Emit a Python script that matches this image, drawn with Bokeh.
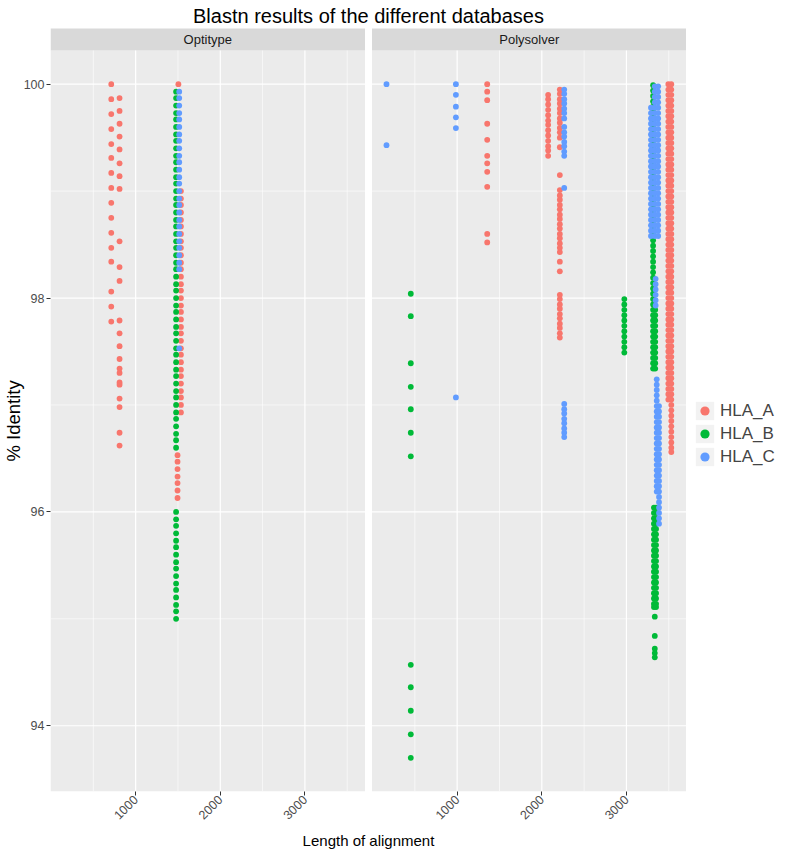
import math
from bokeh.plotting import figure
from bokeh.layouts import row
from bokeh.models import Range1d, FixedTicker, Legend, LegendItem, Title
from bokeh.core.properties import value
from bokeh.embed import file_html
from bokeh.resources import INLINE

FONT = "Liberation Sans"
alleles = ["HLA_A", "HLA_B", "HLA_C"]
allele_colors = ["#F8766D", "#00BA38", "#619CFF"]
panels = ["Optitype", "Polysolver"]

x_major = [1000, 2000, 3000]
x_minor = [500, 1500, 2500, 3500]
y_major = [94, 96, 98, 100]
y_minor = [95, 97, 99]

# ---------------- data: (alignment length, [% identity ...]) ----------------
opt_a_cols = [
    (712, [100.0, 99.86, 99.72, 99.58, 99.44, 99.31, 99.17, 99.03, 98.89, 98.75,
           98.61, 98.47, 98.34, 98.06, 97.92, 97.78]),
    (810, [99.87, 99.75, 99.63, 99.51, 99.39, 99.26, 99.14, 99.02, 98.53, 98.29,
           98.16, 97.79, 97.67, 97.55, 97.43, 97.34, 97.30, 97.21, 97.19, 97.06,
           96.98, 96.74, 96.62]),
    (1505, [100.0]),
    (1535, [99.00, 98.93, 98.87, 98.80, 98.73, 98.67, 98.60, 98.53, 98.47, 98.40,
            98.33, 98.27, 98.20, 98.13, 98.07, 98.00, 97.93, 97.87, 97.80, 97.73,
            97.67, 97.60, 97.53, 97.47, 97.40, 97.33, 97.27, 97.20, 97.13, 97.07,
            97.00, 96.93]),
    (1495, [96.53, 96.47, 96.40, 96.33, 96.27, 96.20, 96.13]),
]
opt_b_cols = [
    (1478, [99.93, 99.87, 99.80, 99.73, 99.67, 99.60, 99.53, 99.47, 99.40, 99.33,
            99.27, 99.20, 99.13, 99.07, 99.00, 98.93, 98.87, 98.80, 98.73, 98.67,
            98.60, 98.53, 98.47, 98.40, 98.33, 98.27, 98.20, 98.13, 98.07, 98.00,
            97.93, 97.87, 97.80, 97.73, 97.67, 97.60, 97.53, 97.47, 97.40, 97.33,
            97.27, 97.20, 97.13, 97.07, 97.00, 96.93, 96.87, 96.80, 96.73, 96.67,
            96.60,
            96.00, 95.93, 95.87, 95.80, 95.73, 95.67, 95.60, 95.53, 95.47, 95.40,
            95.33, 95.27, 95.20, 95.13, 95.07, 95.00]),
]
opt_c_cols = [
    (1515, [99.93, 99.87, 99.80, 99.73, 99.67, 99.60, 99.53, 99.47, 99.40, 99.33,
            99.27, 99.20, 99.13, 99.07, 99.00, 98.93, 98.87, 98.80, 98.73, 98.67,
            98.60, 98.53, 98.47, 98.40, 98.33, 98.27, 97.53]),
]

poly_a_dense = [100.00, 99.95, 99.90, 99.85, 99.80, 99.75, 99.70, 99.65, 99.60, 99.55,
                99.50, 99.45, 99.40, 99.35, 99.30, 99.25, 99.20, 99.15, 99.10, 99.05,
                99.00, 98.95, 98.90, 98.85, 98.80, 98.75, 98.70, 98.65, 98.60, 98.55,
                98.50, 98.45, 98.40, 98.35, 98.30, 98.25, 98.20, 98.15, 98.10, 98.05,
                98.00, 97.95, 97.90, 97.85, 97.80, 97.75, 97.70, 97.65, 97.60, 97.55,
                97.50, 97.45, 97.40, 97.35, 97.30, 97.25, 97.20, 97.15, 97.10, 97.05,
                97.00, 96.95, 96.90, 96.85, 96.80, 96.75, 96.70, 96.65, 96.60, 96.56]
poly_a_cols = [
    (1355, [100.0, 99.93, 99.85, 99.63, 99.48, 99.33, 99.26, 99.18, 99.04, 98.60, 98.52]),
    (2075, [99.90, 99.86, 99.81, 99.76, 99.71, 99.66, 99.62, 99.57, 99.52, 99.47,
            99.42, 99.38, 99.33]),
    (2213, [99.95, 99.91, 99.86, 99.82, 99.77, 99.73, 99.68, 99.64, 99.59, 99.55,
            99.50, 99.41, 99.15,
            99.01, 98.96, 98.92, 98.87, 98.83, 98.78, 98.74, 98.69, 98.65, 98.60,
            98.56, 98.51, 98.47, 98.43, 98.34, 98.25,
            98.03, 97.99, 97.94, 97.90, 97.85, 97.81, 97.76, 97.72, 97.67, 97.63]),
    (3495, poly_a_dense[:60]),
    (3530, poly_a_dense),
]

poly_b_dense_top = [99.99, 99.94, 99.89, 99.84, 99.79, 99.74, 99.69, 99.64, 99.59, 99.54,
                    99.49, 99.44, 99.39, 99.34, 99.29, 99.24, 99.19, 99.14, 99.09, 99.04,
                    98.99, 98.94, 98.89, 98.84, 98.79, 98.74, 98.69, 98.64, 98.59, 98.54,
                    98.49, 98.44, 98.39, 98.34, 98.29, 98.24, 98.19, 98.14, 98.09, 98.04,
                    97.99, 97.94, 97.89, 97.84, 97.79, 97.74, 97.69, 97.64, 97.59, 97.54,
                    97.49, 97.44, 97.39, 97.34]
poly_b_dense_low = [96.04, 95.99, 95.94, 95.89, 95.84, 95.79, 95.74, 95.69, 95.64, 95.59,
                    95.54, 95.49, 95.44, 95.39, 95.34, 95.29, 95.24, 95.19, 95.14, 95.11]
poly_b_cols = [
    (452, [98.04, 97.83, 97.39, 97.17, 96.96, 96.74, 96.52, 94.57, 94.36, 94.14, 93.92, 93.70]),
    (2975, [97.99, 97.94, 97.89, 97.84, 97.79, 97.74, 97.69, 97.64, 97.59, 97.54, 97.49]),
    (3315, poly_b_dense_top),
    (3340, poly_b_dense_top[42:]),
    (3325, poly_b_dense_low),
    (3350, poly_b_dense_low),
    (3335, [95.02, 94.84, 94.72, 94.68, 94.64]),
]

poly_c_dense_top = [99.98, 99.93, 99.88, 99.83, 99.78, 99.73, 99.68, 99.63, 99.58, 99.53,
                    99.48, 99.43, 99.38, 99.33, 99.28, 99.23, 99.18, 99.13, 99.08, 99.03,
                    98.98, 98.93, 98.88, 98.83, 98.78, 98.73, 98.68, 98.63, 98.58]
poly_c_dense_low = [97.24, 97.19, 97.14, 97.09, 97.04, 96.99, 96.94, 96.89, 96.84, 96.79,
                    96.74, 96.69, 96.64, 96.59, 96.54, 96.49, 96.44, 96.39, 96.34, 96.29,
                    96.24, 96.19, 96.14, 96.09, 96.04, 95.99, 95.94, 95.89]
poly_c_cols = [
    (165, [100.0, 99.43]),
    (985, [100.0, 99.90, 99.79, 99.69, 99.59, 97.07]),
    (2265, [99.95, 99.91, 99.86, 99.82, 99.77, 99.73, 99.68, 99.60, 99.55, 99.51,
            99.46, 99.42, 99.37, 99.33, 99.03, 97.01, 96.96, 96.92, 96.87, 96.83,
            96.78, 96.74, 96.70]),
    (3290, poly_c_dense_top[4:]),
    (3335, poly_c_dense_top),
    (3375, poly_c_dense_top),
    (3345, [98.18, 98.13, 98.08, 98.03, 97.98, 97.93]),
    (3358, poly_c_dense_low[:22]),
    (3385, poly_c_dense_low[5:]),
]

panel_data = {
    "Optitype": [opt_a_cols, opt_b_cols, opt_c_cols],
    "Polysolver": [poly_a_cols, poly_b_cols, poly_c_cols],
}

# ---------------- geometry ----------------
X_LO, X_HI = -6.0, 3710.0
Y_LO, Y_HI = 93.385, 100.315

MAIN_W, LEG_W, H = 686, 100, 852
ML, MB = 50, 61
FRAME_W = MAIN_W - ML
FRAME_H = H - MB
PANEL_W, GAP = 314.5, 7.0
PANEL_H = 741.0
STRIP_H = 22.0

upx = (X_HI - X_LO) / PANEL_W
OFFSET = round((PANEL_W + GAP) * upx)
XR_HI = X_LO + FRAME_W * upx
upy = (Y_HI - Y_LO) / PANEL_H
YR_HI = Y_LO + FRAME_H * upy
Y_STRIP = Y_HI + STRIP_H * upy

p = figure(width=MAIN_W, height=H, x_range=Range1d(X_LO, XR_HI), y_range=Range1d(Y_LO, YR_HI),
           output_backend="svg", toolbar_location=None,
           min_border_left=ML, min_border_right=0, min_border_top=0, min_border_bottom=MB)
p.extra_x_ranges = {"poly": Range1d(X_LO - OFFSET, XR_HI - OFFSET)}
p.outline_line_color = None
p.background_fill_color = "white"
p.border_fill_color = "white"
p.xgrid.visible = False
p.ygrid.visible = False

range_names = {"Optitype": "default", "Polysolver": "poly"}
for panel in panels:
    rn = range_names[panel]
    p.quad(left=[X_LO], right=[X_HI], bottom=[Y_LO], top=[Y_HI], fill_color="#EBEBEB",
           line_color=None, x_range_name=rn)
    p.quad(left=[X_LO], right=[X_HI], bottom=[Y_HI], top=[Y_STRIP], fill_color="#D9D9D9",
           line_color=None, x_range_name=rn)
    p.text(x=[(X_LO + X_HI) / 2], y=[(Y_HI + Y_STRIP) / 2], text=[panel], x_range_name=rn,
           text_align="center", text_baseline="middle", text_font=value(FONT),
           text_font_size="13px", text_color="#1A1A1A")
    p.segment(x0=x_minor, x1=x_minor, y0=[Y_LO] * len(x_minor), y1=[Y_HI] * len(x_minor),
              line_color="white", line_width=0.6, x_range_name=rn)
    p.segment(x0=[X_LO] * len(y_minor), x1=[X_HI] * len(y_minor), y0=y_minor, y1=y_minor,
              line_color="white", line_width=0.6, x_range_name=rn)
    p.segment(x0=x_major, x1=x_major, y0=[Y_LO] * len(x_major), y1=[Y_HI] * len(x_major),
              line_color="white", line_width=1.2, x_range_name=rn)
    p.segment(x0=[X_LO] * len(y_major), x1=[X_HI] * len(y_major), y0=y_major, y1=y_major,
              line_color="white", line_width=1.2, x_range_name=rn)
    for allele, color, cols in zip(alleles, allele_colors, panel_data[panel]):
        xs, ys = [], []
        for length, idents in cols:
            xs += [length] * len(idents)
            ys += list(idents)
        p.scatter(x=xs, y=ys, size=5.8, fill_color=color, line_color=None, x_range_name=rn)

# title (inside the frame, above the strips)
p.text(x=[(X_LO + XR_HI) / 2], y=[YR_HI - 15 * upy],
       text=["Blastn results of the different databases"],
       text_align="center", text_baseline="middle", text_font=value(FONT),
       text_font_size="20px", text_color="black")

# axes
p.xaxis.ticker = FixedTicker(ticks=x_major + [t + OFFSET for t in x_major])
overrides = {t: str(t) for t in x_major}
overrides.update({t + OFFSET: str(t) for t in x_major})
p.xaxis.major_label_overrides = overrides
p.xaxis.major_label_orientation = math.pi / 4
p.yaxis.ticker = FixedTicker(ticks=y_major)
for ax in (p.xaxis[0], p.yaxis[0]):
    ax.axis_line_color = None
    ax.major_tick_line_color = "#333333"
    ax.major_tick_out = 4
    ax.major_tick_in = 0
    ax.minor_tick_line_color = None
    ax.major_label_text_color = "#4D4D4D"
    ax.major_label_text_font = FONT
    ax.major_label_text_font_size = "12.5px"
    ax.major_label_standoff = 2
p.xaxis.axis_label = "Length of alignment"
p.xaxis.axis_label_text_font = FONT
p.xaxis.axis_label_text_font_size = "15px"
p.xaxis.axis_label_text_font_style = "normal"
p.xaxis.axis_label_text_color = "black"
p.xaxis.axis_label_standoff = 5

# y axis title, centred on the panels (not on the whole frame)
YT_SIZE = 18.5
yt_len = 4.391 * YT_SIZE
panel_center_from_bottom = PANEL_H / 2
ytitle = Title(text="% Identity", align="left",
               offset=round(panel_center_from_bottom - yt_len / 2),
               text_font=FONT, text_font_size=f"{YT_SIZE}px", text_font_style="normal",
               text_color="black", standoff=-6)
p.add_layout(ytitle, "left")

# ---------------- legend (separate narrow figure to the right) ----------------
lf = figure(width=LEG_W, height=H, x_range=Range1d(0, 1), y_range=Range1d(0, 1),
            output_backend="svg", toolbar_location=None,
            min_border_left=0, min_border_right=0, min_border_top=0, min_border_bottom=0)
lf.axis.visible = False
lf.xgrid.visible = False
lf.ygrid.visible = False
lf.outline_line_color = None
lf.background_fill_color = "white"
lf.border_fill_color = "white"

items = []
for allele, color in zip(alleles, allele_colors):
    bg = lf.quad(left=[5], right=[6], bottom=[5], top=[6], fill_color="#F2F2F2", line_color=None)
    dot = lf.scatter(x=[5], y=[5], fill_color=color, line_color=None)
    items.append(LegendItem(label=allele, renderers=[bg, dot]))
KEY = 23
leg_top = 399
legend = Legend(items=items, location=(7, FRAME_H - leg_top - 3 * KEY), orientation="vertical",
                glyph_width=KEY, glyph_height=KEY, spacing=0, padding=0, margin=0,
                label_standoff=4, label_text_font=FONT, label_text_font_size="17px",
                label_height=KEY, border_line_color=None, background_fill_alpha=0)
lf.add_layout(legend)

layout = row(p, lf, spacing=0)
open("out.html", "w").write(file_html(layout, INLINE))
